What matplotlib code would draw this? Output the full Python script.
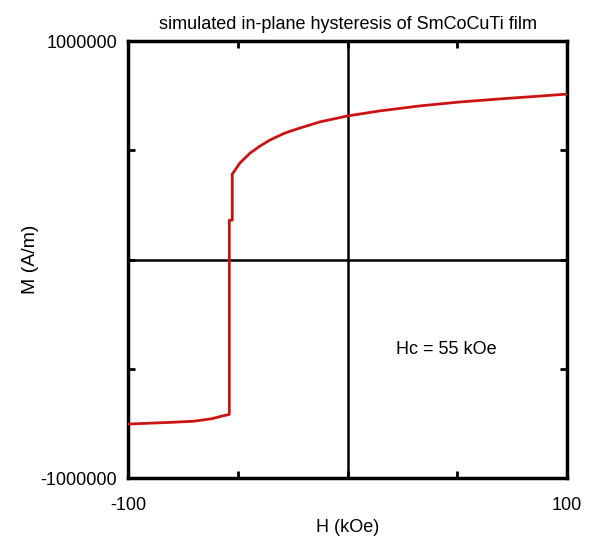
import matplotlib
matplotlib.use('Agg')
import matplotlib.pyplot as plt

# lower branch (sweep up from -100 kOe), values in A/m
h_low = [-100, -90, -80, -70, -62, -57, -53.85, -53.85, -52.5, -52.5]
m_low = [-753000, -749000, -745000, -740000, -729000, -716000, -709000, 180000, 180000, 391000]

# upper part of the curve after switching
h_up = [-52.5, -49.0, -44.4, -39.9, -35.3, -28.5, -21.6, -12.5, 0, 14.6, 33.0, 51.2, 69.5, 87.7, 100]
m_up = [391000, 442000, 487000, 519000, 547000, 579000, 602000, 630000, 657000,
        680000, 703000, 721000, 735000, 748000, 757000]

h_all = h_low + h_up[1:]
m_all = m_low + m_up[1:]

plt.rcParams['font.family'] = ['Liberation Sans', 'DejaVu Sans']

fig = plt.figure(figsize=(5.93, 5.46), dpi=100)
ax = fig.add_axes([0.2159, 0.1245, 0.7403, 0.8004])

ax.axhline(0, color='black', lw=1.8, zorder=1)
ax.axvline(0, color='black', lw=1.8, zorder=1)

ax.plot(h_all, m_all, color='#dd1111', lw=2.0, zorder=3)
ax.plot(h_all, m_all, color='#6a2a20', lw=0.8, alpha=0.35, zorder=4)

ax.set_xlim(-100, 100)
ax.set_ylim(-1000000, 1000000)

ax.set_xticks([-100, -50, 0, 50, 100])
ax.set_xticklabels(['-100', '', '', '', '100'])
ax.set_yticks([-1000000, -500000, 0, 500000, 1000000])
ax.set_yticklabels(['-1000000', '', '', '', '1000000'])
ax.tick_params(direction='in', length=5, width=2, top=True, right=True,
               labelsize=13, color='black')
ax.tick_params(axis='x', pad=14)
ax.tick_params(axis='y', pad=8)

for s in ax.spines.values():
    s.set_linewidth(2.5)

ax.set_title('simulated in-plane hysteresis of SmCoCuTi film', fontsize=13, pad=9)
ax.set_xlabel('H (kOe)', fontsize=13, labelpad=3)
ax.set_ylabel('M (A/m)', fontsize=14, labelpad=1)

ax.text(45, -414000, 'Hc = 55 kOe', fontsize=13, ha='center', va='center')

fig.savefig('out.png', dpi=100)
